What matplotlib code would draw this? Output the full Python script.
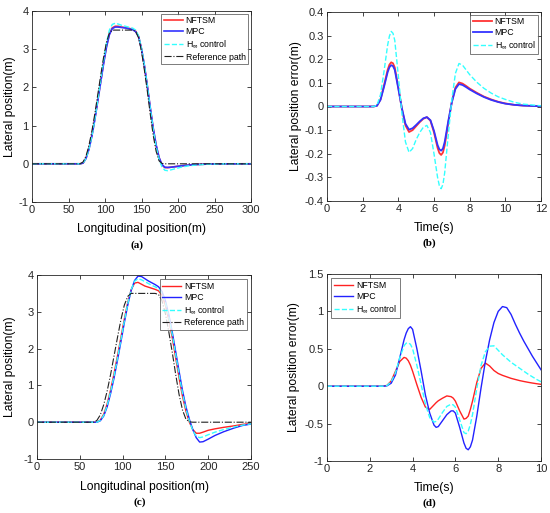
import matplotlib
matplotlib.use('Agg')
import matplotlib.pyplot as plt
from matplotlib.ticker import FormatStrFormatter

plt.rcParams['font.family'] = ['Liberation Sans', 'DejaVu Sans']
plt.rcParams['axes.unicode_minus'] = False
plt.rcParams['mathtext.fontset'] = 'custom'
plt.rcParams['mathtext.rm'] = 'Liberation Sans'

# ---- panel (a): lateral position vs longitudinal position ----
xa = [0, 60, 66, 70, 74, 78, 82, 86, 90, 94, 98, 102, 106, 110, 114, 118, 122,
      126, 130, 134, 138, 142, 146, 150, 154, 158, 162, 166, 170, 174, 178,
      182, 186, 190, 196, 204, 214, 226, 240, 260, 300]
ref_a = [0, 0, 0, 0.05, 0.2, 0.48, 0.85, 1.3, 1.8, 2.3, 2.78, 3.18, 3.42, 3.5,
         3.5, 3.5, 3.5, 3.5, 3.5, 3.5, 3.5, 3.47, 3.3, 2.95, 2.45, 1.9, 1.3,
         0.75, 0.33, 0.08, 0.01, 0, 0, 0, 0, 0, 0, 0, 0, 0, 0]
nftsm_a = [0, 0, 0, 0.02, 0.15, 0.4, 0.75, 1.18, 1.66, 2.15, 2.64, 3.08, 3.4,
           3.56, 3.6, 3.6, 3.58, 3.57, 3.56, 3.54, 3.52, 3.47, 3.33, 3.0, 2.55,
           2.02, 1.45, 0.92, 0.48, 0.16, -0.03, -0.1, -0.1, -0.09, -0.075,
           -0.055, -0.035, -0.018, -0.008, -0.002, 0]
mpc_a = [0, 0, 0, 0.02, 0.14, 0.38, 0.72, 1.15, 1.63, 2.12, 2.61, 3.05, 3.38,
         3.54, 3.58, 3.58, 3.57, 3.56, 3.55, 3.53, 3.51, 3.46, 3.33, 3.01, 2.57,
         2.04, 1.47, 0.94, 0.5, 0.17, -0.02, -0.09, -0.095, -0.09, -0.075,
         -0.055, -0.035, -0.018, -0.008, -0.002, 0]
hinf_a = [0, 0, 0, 0.02, 0.14, 0.38, 0.72, 1.16, 1.66, 2.18, 2.7, 3.16, 3.5,
          3.65, 3.68, 3.66, 3.63, 3.61, 3.59, 3.57, 3.55, 3.5, 3.35, 3.02, 2.57,
          2.03, 1.45, 0.9, 0.45, 0.12, -0.08, -0.17, -0.18, -0.16, -0.13,
          -0.09, -0.055, -0.03, -0.012, -0.003, 0]

# ---- panel (b): lateral position error vs time ----
tb = [0, 2.6, 2.8, 3.0, 3.2, 3.4, 3.5, 3.6, 3.7, 3.8, 4.0, 4.2, 4.4, 4.6, 4.8,
      5.0, 5.2, 5.4, 5.6, 5.8, 6.0, 6.2, 6.3, 6.4, 6.5, 6.6, 6.8, 7.0, 7.2,
      7.4, 7.6, 7.8, 8.0, 8.4, 8.8, 9.2, 9.6, 10, 10.5, 11, 12]
nftsm_b = [0, 0, 0.003, 0.03, 0.09, 0.155, 0.177, 0.187, 0.183, 0.165, 0.08,
           -0.01, -0.08, -0.108, -0.1, -0.083, -0.066, -0.052, -0.045, -0.06,
           -0.11, -0.175, -0.197, -0.205, -0.195, -0.165, -0.07, 0.02, 0.08,
           0.102, 0.097, 0.087, 0.076, 0.058, 0.042, 0.03, 0.02, 0.013, 0.007,
           0.004, 0.001]
mpc_b = [0, 0, 0.003, 0.028, 0.084, 0.145, 0.166, 0.175, 0.171, 0.155, 0.075,
         -0.008, -0.073, -0.098, -0.092, -0.078, -0.063, -0.05, -0.045, -0.058,
         -0.103, -0.163, -0.181, -0.187, -0.178, -0.15, -0.062, 0.018, 0.074,
         0.095, 0.091, 0.082, 0.072, 0.055, 0.04, 0.028, 0.019, 0.012, 0.007,
         0.004, 0.001]
hinf_b = [0, 0, 0.005, 0.05, 0.15, 0.26, 0.298, 0.318, 0.31, 0.28, 0.13,
          -0.03, -0.15, -0.194, -0.178, -0.14, -0.11, -0.088, -0.08, -0.11,
          -0.2, -0.3, -0.335, -0.348, -0.33, -0.28, -0.12, 0.03, 0.14, 0.182,
          0.175, 0.155, 0.135, 0.103, 0.077, 0.057, 0.041, 0.03, 0.018, 0.01,
          0.003]

# ---- panel (c): lateral position vs longitudinal position ----
xc = [0, 60, 66, 70, 74, 78, 82, 86, 90, 94, 98, 102, 106, 110, 114, 118, 122,
      126, 130, 134, 138, 142, 146, 150, 154, 158, 162, 166, 170, 174, 178,
      182, 186, 190, 194, 200, 208, 218, 230, 240, 250]
ref_c = [0, 0, 0, 0.05, 0.2, 0.48, 0.85, 1.3, 1.8, 2.3, 2.78, 3.18, 3.42, 3.5,
         3.5, 3.5, 3.5, 3.5, 3.5, 3.5, 3.5, 3.47, 3.3, 2.95, 2.45, 1.9, 1.3,
         0.75, 0.33, 0.08, 0.01, 0, 0, 0, 0, 0, 0, 0, 0, 0, 0]
nftsm_c = [0, 0, 0, 0, 0.06, 0.22, 0.5, 0.88, 1.32, 1.8, 2.3, 2.8, 3.25, 3.6,
           3.78, 3.8, 3.75, 3.7, 3.67, 3.64, 3.61, 3.57, 3.45, 3.18, 2.78, 2.3,
           1.75, 1.2, 0.7, 0.3, 0.0, -0.2, -0.3, -0.3, -0.27, -0.22, -0.18,
           -0.14, -0.1, -0.06, -0.035]
mpc_c = [0, 0, 0, 0, 0.04, 0.17, 0.42, 0.78, 1.2, 1.68, 2.18, 2.7, 3.18, 3.58,
         3.85, 3.97, 3.96, 3.9, 3.84, 3.79, 3.74, 3.68, 3.55, 3.3, 2.92, 2.45,
         1.92, 1.38, 0.86, 0.42, 0.08, -0.2, -0.42, -0.54, -0.53, -0.46, -0.36,
         -0.26, -0.16, -0.09, -0.05]
hinf_c = [0, 0, 0, 0, 0.05, 0.19, 0.46, 0.83, 1.26, 1.74, 2.24, 2.75, 3.22,
          3.6, 3.83, 3.9, 3.87, 3.82, 3.77, 3.72, 3.68, 3.63, 3.5, 3.24, 2.85,
          2.38, 1.84, 1.29, 0.78, 0.36, 0.03, -0.22, -0.38, -0.42, -0.4, -0.34,
          -0.27, -0.2, -0.13, -0.08, -0.045]

# ---- panel (d): lateral position error vs time ----
td = [0, 2.6, 2.8, 3.0, 3.2, 3.4, 3.6, 3.7, 3.8, 3.9, 4.0, 4.2, 4.4, 4.6, 4.8,
      5.0, 5.1, 5.2, 5.4, 5.6, 5.8, 5.9, 6.0, 6.2, 6.4, 6.5, 6.6, 6.7, 6.8,
      7.0, 7.2, 7.4, 7.6, 7.8, 8.0, 8.2, 8.4, 8.6, 8.8, 9.0, 9.2, 9.4, 9.6,
      9.8, 10]
nftsm_d = [0, 0, 0.01, 0.07, 0.2, 0.33, 0.385, 0.375, 0.34, 0.28, 0.2, 0.02,
           -0.15, -0.28, -0.31, -0.25, -0.22, -0.195, -0.16, -0.13, -0.14,
           -0.16, -0.2, -0.33, -0.44, -0.43, -0.4, -0.31, -0.2, 0.05, 0.24,
           0.31, 0.27, 0.21, 0.17, 0.145, 0.125, 0.105, 0.09, 0.075, 0.063,
           0.052, 0.042, 0.033, 0.025]
mpc_d = [0, 0, 0.005, 0.04, 0.15, 0.38, 0.62, 0.71, 0.77, 0.795, 0.76, 0.5,
         0.2, -0.12, -0.36, -0.52, -0.55, -0.54, -0.46, -0.38, -0.33, -0.33,
         -0.36, -0.55, -0.76, -0.83, -0.85, -0.81, -0.72, -0.4, -0.02, 0.33,
         0.62, 0.85, 1.0, 1.065, 1.05, 0.96, 0.83, 0.71, 0.6, 0.5, 0.4, 0.31,
         0.22]
hinf_d = [0, 0, 0.008, 0.06, 0.18, 0.38, 0.54, 0.575, 0.58, 0.56, 0.5, 0.28,
          0.02, -0.24, -0.42, -0.48, -0.47, -0.44, -0.35, -0.27, -0.24, -0.25,
          -0.28, -0.45, -0.62, -0.635, -0.6, -0.51, -0.38, -0.03, 0.28, 0.46,
          0.535, 0.54, 0.48, 0.42, 0.37, 0.32, 0.28, 0.24, 0.2, 0.16, 0.125,
          0.09, 0.06]

labels = ['NFTSM', 'MPC', r'H$_{\infty}$ control', 'Reference path']
W, H = 550, 513
fig = plt.figure(figsize=(W / 100, H / 100), dpi=100)


def make_ax(l, t, r, b):
    ax = fig.add_axes([l / W, 1 - b / H, (r - l) / W, (b - t) / H])
    ax.tick_params(direction='in', length=3, width=0.6, labelsize=8,
                   top=True, right=True, colors='#262626', pad=2.5)
    for s in ax.spines.values():
        s.set_linewidth(0.6)
        s.set_color('#262626')
    return ax


def style_legend(ax, loc, **kw):
    leg = ax.legend(loc=loc, fontsize=6.3, frameon=True, fancybox=False,
                    handlelength=2.2, handletextpad=0.3, borderpad=0.3,
                    labelspacing=0.25, **kw)
    leg.get_frame().set_edgecolor('#404040')
    leg.get_frame().set_linewidth(0.6)


def finish(ax, xl, yl, tag, xlx, ylx):
    ax.set_xlabel(xl, fontsize=8.7)
    ax.set_ylabel(yl, fontsize=8.7)
    ax.xaxis.set_label_coords(0.5, xlx)
    ax.yaxis.set_label_coords(ylx, 0.5)
    ax.text(0.48, xlx - 0.09, tag, transform=ax.transAxes, ha='center',
            va='top', fontsize=8, fontweight='bold',
            family=['Liberation Serif', 'DejaVu Serif'])


# (a)
ax = make_ax(32, 11, 251, 202)
ax.plot(xa, nftsm_a, color='#ff3333', lw=1.2, label=labels[0])
ax.plot(xa, mpc_a, color='#3333ff', lw=1.2, label=labels[1])
ax.plot(xa, hinf_a, color='#33ffff', lw=1.0, ls='--', label=labels[2])
ax.plot(xa, ref_a, color='#202020', lw=0.8, ls='-.', label=labels[3])
ax.set_xlim(0, 300)
ax.set_ylim(-1, 4)
ax.set_xticks(range(0, 301, 50))
ax.set_yticks(range(-1, 5))
style_legend(ax, 'upper right', borderaxespad=0.3)
finish(ax, 'Longitudinal position(m)', 'Lateral position(m)', '(a)', -0.11, -0.075)

# (b)
ax = make_ax(327, 12, 541, 201)
ax.plot(tb, nftsm_b, color='#ff3333', lw=1.3, label=labels[0])
ax.plot(tb, mpc_b, color='#3333ff', lw=1.3, label=labels[1])
ax.plot(tb, hinf_b, color='#33ffff', lw=1.0, ls='--', label=labels[2])
ax.set_xlim(0, 12)
ax.set_ylim(-0.4, 0.4)
ax.set_xticks(range(0, 13, 2))
ax.set_yticks([-0.4, -0.3, -0.2, -0.1, 0, 0.1, 0.2, 0.3, 0.4])
ax.yaxis.set_major_formatter(FormatStrFormatter('%g'))
style_legend(ax, 'upper right', borderaxespad=0.3)
finish(ax, 'Time(s)', 'Lateral position error(m)', '(b)', -0.11, -0.115)

# (c)
ax = make_ax(37, 275, 251, 459)
ax.plot(xc, nftsm_c, color='#ff2222', lw=1.0, label=labels[0])
ax.plot(xc, mpc_c, color='#2222ff', lw=1.0, label=labels[1])
ax.plot(xc, hinf_c, color='#33ffff', lw=1.0, ls='--', label=labels[2])
ax.plot(xc, ref_c, color='#202020', lw=0.8, ls='-.', label=labels[3])
ax.set_xlim(0, 250)
ax.set_ylim(-1, 4)
ax.set_xticks(range(0, 251, 50))
ax.set_yticks(range(-1, 5))
style_legend(ax, 'upper right', borderaxespad=0.5)
finish(ax, 'Longitudinal position(m)', 'Lateral position(m)', '(c)', -0.12, -0.1)

# (d)
ax = make_ax(327, 274, 541, 461)
ax.plot(td, nftsm_d, color='#ff2222', lw=1.0, label=labels[0])
ax.plot(td, mpc_d, color='#2222ff', lw=1.0, label=labels[1])
ax.plot(td, hinf_d, color='#33ffff', lw=1.0, ls='--', label=labels[2])
ax.set_xlim(0, 10)
ax.set_ylim(-1, 1.5)
ax.set_xticks(range(0, 11, 2))
ax.set_yticks([-1, -0.5, 0, 0.5, 1, 1.5])
ax.yaxis.set_major_formatter(FormatStrFormatter('%g'))
style_legend(ax, 'upper left', borderaxespad=0.5)
finish(ax, 'Time(s)', 'Lateral position error(m)', '(d)', -0.11, -0.125)

fig.savefig('out.png', dpi=100)
